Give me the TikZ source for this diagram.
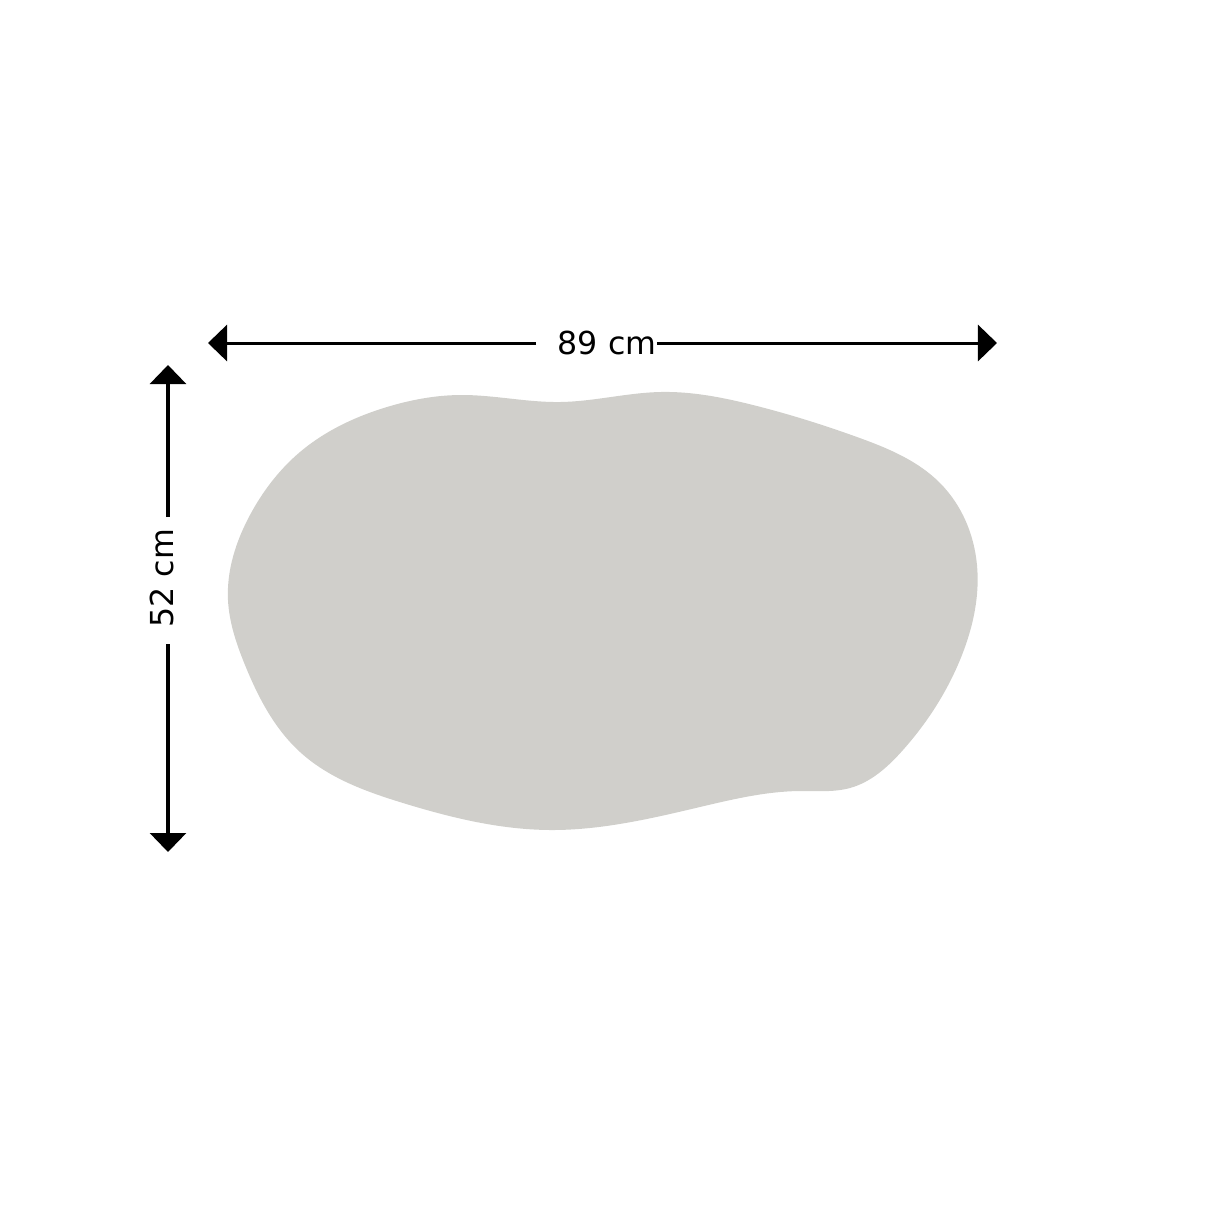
\documentclass[tikz,border=0pt]{standalone}
\usepackage{fontspec}
\setmainfont{DejaVu Sans}
\usetikzlibrary{arrows.meta, hobby}
\definecolor{slab}{RGB}{208,207,203}

\begin{document}
\begin{tikzpicture}[x=0.01cm, y=-0.01cm, font=\fontsize{9}{11}\selectfont,
  dimline/.style={line width=0.03cm, -{Triangle[length=0.19cm, width=0.36cm]}},
  dimlabel/.style={inner sep=0pt, text=black}]
\useasboundingbox (0,0) rectangle (1214,1214);

%%% table top
\fill [slab] plot [closed hobby] coordinates {
  (228,600) (250,515) (300,452) (387,407) (460,395) (560,402) (660,392)
  (753,405) (857,437) (940,483) (977,565) (962,655) (903,750) (850,788)
  (800,791) (700,807) (550,830) (403,803) (300,752) (245,665)};

%%% width
\coordinate (width-left) at (208,343);
\coordinate (width-right) at (997,343);
\node [dimlabel] (width-label) at (607,343) {89 cm};
\draw [dimline, shorten <=0.21cm] (width-label.west) -- (width-left);
\draw [dimline] (width-label.east) -- (width-right);

%%% height
\coordinate (height-top) at (168,365);
\coordinate (height-bottom) at (168,852);
\node [dimlabel, rotate=90] (height-label) at (162,578) {52 cm};
\draw [dimline, shorten <=0.11cm] (height-top |- height-label.east) -- (height-top);
\draw [dimline, shorten <=0.16cm] (height-top |- height-label.west) -- (height-bottom);

\end{tikzpicture}
\end{document}
